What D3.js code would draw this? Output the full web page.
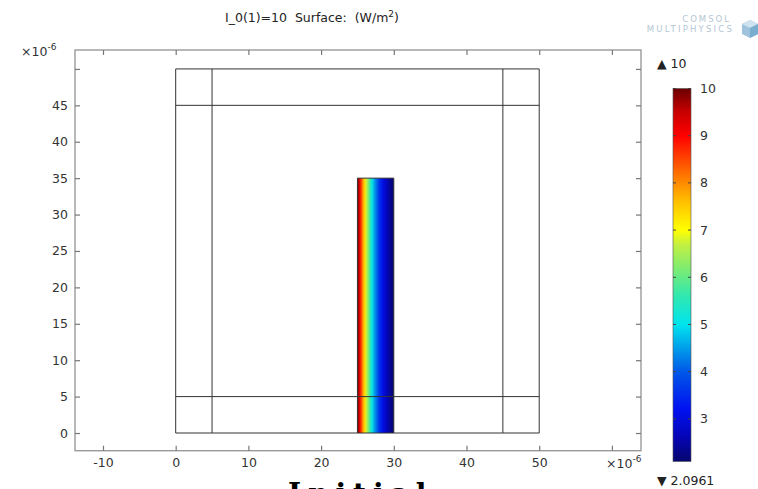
<!DOCTYPE html>
<html>
<head>
<meta charset="utf-8">
<script src="https://cdn.jsdelivr.net/npm/d3@7"></script>
<style>
  body { margin: 0; background: #fff; }
  svg { display: block; font-family: "DejaVu Sans", sans-serif; }
</style>
</head>
<body>
<svg id="chart" width="758" height="489"></svg>
<script>
// axis ticks (micrometres, shown as x10^-6)
var xTicks = [-10, 0, 10, 20, 30, 40, 50, 60];
var yTicks = [0, 5, 10, 15, 20, 25, 30, 35, 40, 45, 50];

// geometry: square 0..50 with partition lines
var gridLines = [0, 5, 45, 50];
var boxRange = [0, 50];

// the absorbing block
var blockX = [25, 30];
var blockY = [0, 35];

// surface value across the block, W/m^2
var profileX = [25, 25.25, 25.5, 25.75, 26, 26.25, 26.5, 26.75, 27, 27.5, 28, 28.5, 29, 29.5, 30];
var profileV = [10, 9.4, 8.6, 7.9, 7.3, 6.7, 6.2, 5.6, 5.1, 4.3, 3.6, 3.1, 2.7, 2.35, 2.0961];

// colour range
var cbMin = 2.0961, cbMax = 10;
var cbTicks = [3, 4, 5, 6, 7, 8, 9, 10];

var svg = d3.select("#chart");
var defs = svg.append("defs");

// rainbow colour map like the reference legend
var rainbow = d3.scaleLinear()
  .domain([2.0961, 2.6, 3.2, 4.0, 5.0, 5.6, 6.2, 6.7, 7.0, 7.6, 8.2, 9.0, 9.5, 10])
  .range(["#06066e", "#0505b4", "#0010f0", "#0058e8", "#00e4ee", "#30e8b0", "#80ec70",
          "#c4f040", "#ffff00", "#ffc000", "#ff7000", "#ff0000", "#c80000", "#6a0000"])
  .clamp(true);

var x = d3.scaleLinear().domain([-13.85, 64.0]).range([75, 641]);
var y = d3.scaleLinear().domain([-2.43, 52.6]).range([450.7, 50]);

// frame
svg.append("rect")
  .attr("x", x.range()[0]).attr("y", y.range()[1])
  .attr("width", x.range()[1] - x.range()[0])
  .attr("height", y.range()[0] - y.range()[1])
  .attr("fill", "none").attr("stroke", "#9a9a9a").attr("stroke-width", 1.4);

function styleAxis(g) {
  g.select(".domain").remove();
  g.selectAll(".tick line").attr("stroke", "#777").attr("stroke-width", 1.2);
  g.selectAll(".tick text").attr("fill", "#333").attr("font-size", 12.5)
    .attr("font-family", "DejaVu Sans, sans-serif");
}

svg.append("g")
  .attr("transform", "translate(0," + y.range()[0] + ")")
  .call(d3.axisBottom(x).tickValues(xTicks).tickSize(-5).tickPadding(7)
    .tickFormat(function (d) { return d === 60 ? "" : d; }))
  .call(styleAxis);

svg.append("g")
  .attr("transform", "translate(0," + y.range()[1] + ")")
  .call(d3.axisTop(x).tickValues(xTicks).tickSize(-5).tickFormat(""))
  .call(styleAxis);

svg.append("g")
  .attr("transform", "translate(" + x.range()[0] + ",0)")
  .call(d3.axisLeft(y).tickValues(yTicks).tickSize(-5).tickPadding(7)
    .tickFormat(function (d) { return d === 50 ? "" : d; }))
  .call(styleAxis);

svg.append("g")
  .attr("transform", "translate(" + x.range()[1] + ",0)")
  .call(d3.axisRight(y).tickValues(yTicks).tickSize(-5).tickFormat(""))
  .call(styleAxis);

// exponent labels
var expTop = svg.append("text").attr("x", 21).attr("y", 56)
  .attr("font-size", 12.5).attr("fill", "#333");
expTop.append("tspan").text("\u00d710");
expTop.append("tspan").attr("dy", -6).attr("font-size", 9).text("-6");

var expBot = svg.append("text").attr("x", 606).attr("y", 468)
  .attr("font-size", 12.5).attr("fill", "#333");
expBot.append("tspan").text("\u00d710");
expBot.append("tspan").attr("dy", -6).attr("font-size", 9).text("-6");

// block surface colour
var grad = defs.append("linearGradient").attr("id", "blockGrad")
  .attr("x1", "0%").attr("x2", "100%").attr("y1", "0%").attr("y2", "0%");
grad.selectAll("stop")
  .data(profileX)
  .enter().append("stop")
  .attr("offset", function (d) { return (100 * (d - blockX[0]) / (blockX[1] - blockX[0])) + "%"; })
  .attr("stop-color", function (d, i) { return rainbow(profileV[i]); });

svg.append("rect")
  .attr("x", x(blockX[0])).attr("y", y(blockY[1]))
  .attr("width", x(blockX[1]) - x(blockX[0]))
  .attr("height", y(blockY[0]) - y(blockY[1]))
  .attr("fill", "url(#blockGrad)");

// geometry edges
var geo = svg.append("g").attr("stroke", "#333").attr("stroke-width", 1).attr("fill", "none");
geo.selectAll(".h").data(gridLines).enter().append("line")
  .attr("x1", x(boxRange[0])).attr("x2", x(boxRange[1]))
  .attr("y1", function (d) { return y(d); }).attr("y2", function (d) { return y(d); });
geo.selectAll(".v").data(gridLines).enter().append("line")
  .attr("y1", y(boxRange[0])).attr("y2", y(boxRange[1]))
  .attr("x1", function (d) { return x(d); }).attr("x2", function (d) { return x(d); });
geo.append("path")
  .attr("d", "M" + x(blockX[0]) + "," + y(blockY[0]) + "V" + y(blockY[1]) +
    "H" + x(blockX[1]) + "V" + y(blockY[0]));

// title
var title = svg.append("text").attr("x", 312).attr("y", 22)
  .attr("text-anchor", "middle").attr("font-size", 12.5).attr("fill", "#222")
  .attr("xml:space", "preserve");
title.append("tspan").text("I_0(1)=10  Surface:  (W/m");
title.append("tspan").attr("dy", -5).attr("font-size", 9).text("2");
title.append("tspan").attr("dy", 5).text(")");

// colour legend
var cb = d3.scaleLinear().domain([cbMin, cbMax]).range([461.5, 88.5]);
var cbX = 673, cbW = 18;
var cbGrad = defs.append("linearGradient").attr("id", "cbGrad")
  .attr("x1", "0%").attr("x2", "0%").attr("y1", "100%").attr("y2", "0%");
cbGrad.selectAll("stop")
  .data(rainbow.domain())
  .enter().append("stop")
  .attr("offset", function (d) { return (100 * (d - cbMin) / (cbMax - cbMin)) + "%"; })
  .attr("stop-color", function (d) { return rainbow(d); });

svg.append("rect")
  .attr("x", cbX).attr("y", cb(cbMax))
  .attr("width", cbW).attr("height", cb(cbMin) - cb(cbMax))
  .attr("fill", "url(#cbGrad)").attr("stroke", "#555").attr("stroke-width", 0.6);

var cbt = svg.append("g").selectAll("g").data(cbTicks).enter().append("g");
cbt.append("line").attr("x1", cbX).attr("x2", cbX + 3)
  .attr("y1", function (d) { return cb(d); }).attr("y2", function (d) { return cb(d); })
  .attr("stroke", "#444");
cbt.append("line").attr("x1", cbX + cbW - 3).attr("x2", cbX + cbW)
  .attr("y1", function (d) { return cb(d); }).attr("y2", function (d) { return cb(d); })
  .attr("stroke", "#444");
cbt.append("text").attr("x", 700).attr("y", function (d) { return cb(d); })
  .attr("dy", "0.36em").attr("font-size", 12.5).attr("fill", "#333")
  .text(function (d) { return d; });

// max / min markers
svg.append("text").attr("x", 657).attr("y", 68).attr("font-size", 12.5).attr("fill", "#222")
  .text("\u25b2 " + cbMax);
svg.append("text").attr("x", 657).attr("y", 485).attr("font-size", 12.5).attr("fill", "#222")
  .text("\u25bc " + cbMin);

// logo
var logo = svg.append("g").attr("fill", "#b4c6d4").attr("font-size", 8.5)
  .attr("font-family", "DejaVu Sans, sans-serif");
logo.append("text").attr("x", 731).attr("y", 22).attr("text-anchor", "end")
  .attr("letter-spacing", 2).text("COMSOL");
logo.append("text").attr("x", 734).attr("y", 32).attr("text-anchor", "end")
  .attr("letter-spacing", 2.2).text("MULTIPHYSICS");
logo.append("path").attr("d", "M742,24 L750,20 L758,24 L758,34 L750,38 L742,34 Z").attr("fill", "#9fc3dc");
logo.append("path").attr("d", "M742,24 L750,28 L758,24 L750,20 Z").attr("fill", "#cfe2ef");
logo.append("path").attr("d", "M750,28 L758,24 L758,34 L750,38 Z").attr("fill", "#7aaed0");

// cut-off caption from the page below
svg.append("text").attr("x", 288).attr("y", 503)
  .attr("font-family", "DejaVu Serif, serif").attr("font-weight", "bold")
  .attr("font-size", 28).attr("letter-spacing", 7).attr("fill", "#000")
  .text("Initial");
</script>
</body>
</html>
